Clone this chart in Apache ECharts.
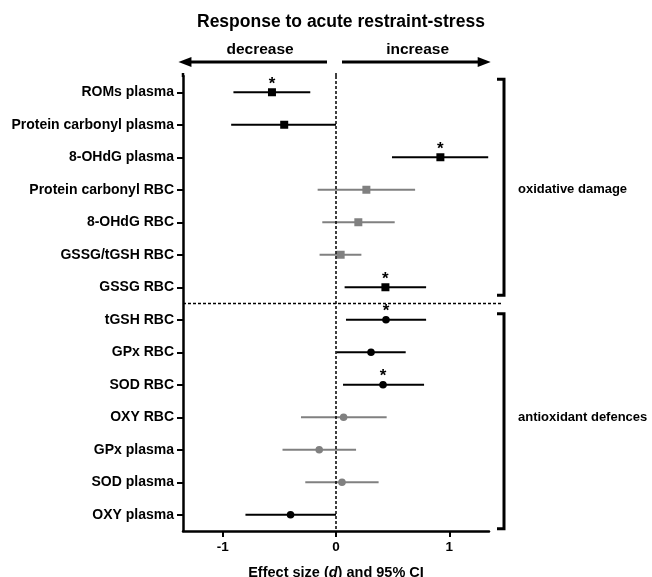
<!DOCTYPE html>
<html lang="en">
<head>
    <meta charset="UTF-8">
    <title>forest plot</title>
    <script src="https://cdn.jsdelivr.net/npm/echarts@6/dist/echarts.min.js"></script>
    <style>
        html, body { margin: 0; padding: 0; background: #fff; }
        #main { width: 652px; height: 577px; }
    </style>
</head>
<body>
<div id="main"></div>
<script>
    // row labels, top to bottom
    var labels = ['ROMs plasma', 'Protein carbonyl plasma', '8-OHdG plasma', 'Protein carbonyl RBC',
        '8-OHdG RBC', 'GSSG/tGSH RBC', 'GSSG RBC', 'tGSH RBC', 'GPx RBC', 'SOD RBC',
        'OXY RBC', 'GPx plasma', 'SOD plasma', 'OXY plasma'];
    // effect size d and 95% CI
    var effect = [-0.565, -0.457, 0.921, 0.268, 0.197, 0.041, 0.436, 0.441, 0.309, 0.415, 0.067, -0.148, 0.053, -0.401];
    var ciLow  = [-0.905, -0.925, 0.494, -0.162, -0.121, -0.145, 0.076, 0.088, 0.005, 0.062, -0.309, -0.472, -0.271, -0.799];
    var ciHigh = [-0.227, 0.0, 1.343, 0.698, 0.518, 0.224, 0.795, 0.795, 0.615, 0.777, 0.447, 0.177, 0.376, 0.0];
    var starred = [1, 0, 1, 0, 0, 0, 1, 1, 0, 1, 0, 0, 0, 0];
    var faded   = [0, 0, 0, 1, 1, 1, 0, 0, 0, 0, 1, 1, 1, 0];
    var shape   = ['rect', 'rect', 'rect', 'rect', 'rect', 'rect', 'rect',
        'circle', 'circle', 'circle', 'circle', 'circle', 'circle', 'circle'];
    var xTicks = [-1, 0, 1];
    var groups = [
        {name: 'oxidative damage', from: 0, to: 6, padTop: 13, padBottom: 8},
        {name: 'antioxidant defences', from: 7, to: 13, padTop: 6, padBottom: 14}
    ];

    var FONT = '"Liberation Sans", Arial, Helvetica, sans-serif';
    var GREY = '#808080';

    var data = labels.map(function (l, i) {
        return [effect[i], i, ciLow[i], ciHigh[i]];
    });

    var myChart = echarts.init(document.getElementById('main'));

    myChart.setOption({
        animation: false,
        backgroundColor: '#fff',
        title: {
            text: 'Response to acute restraint-stress',
            left: 192,
            top: 8,
            textStyle: {fontFamily: FONT, fontSize: 17.5, fontWeight: 'bold', color: '#000'}
        },
        grid: {left: 183, right: 163, top: 76, bottom: 46, outerBoundsMode: 'none', containLabel: false},
        xAxis: {
            type: 'value',
            min: -1.35,
            max: 1.35,
            splitLine: {show: false},
            axisLine: {show: true, onZero: false, lineStyle: {color: '#000', width: 2.5}},
            axisTick: {show: true, customValues: xTicks, length: 6, lineStyle: {color: '#000', width: 2}},
            axisLabel: {
                customValues: xTicks, margin: 9, color: '#000',
                fontFamily: FONT, fontSize: 13.5, fontWeight: 'bold'
            },
            name: '{b|Effect size (}{i|d}{b|) and 95% CI}',
            nameLocation: 'middle',
            nameGap: 34,
            nameTextStyle: {
                rich: {
                    b: {fontFamily: FONT, fontSize: 14.5, fontWeight: 'bold', color: '#000'},
                    i: {fontFamily: FONT, fontSize: 14.5, fontWeight: 'bold', fontStyle: 'italic', color: '#000'}
                }
            }
        },
        yAxis: {
            type: 'category',
            inverse: true,
            data: labels,
            axisLine: {show: true, onZero: false, lineStyle: {color: '#000', width: 2.5}},
            axisTick: {show: true, alignWithLabel: true, length: 6, lineStyle: {color: '#000', width: 2}},
            axisLabel: {
                margin: 9, color: '#000',
                fontFamily: FONT, fontSize: 14, fontWeight: 'bold'
            },
            splitLine: {show: false}
        },
        series: [{
            type: 'custom',
            data: data,
            encode: {x: 0, y: 1},
            clip: false,
            renderItem: function (params, api) {
                var i = params.dataIndex;
                var c = faded[i] ? GREY : '#000';
                var p = api.coord([api.value(0), i]);
                var lo = api.coord([api.value(2), i]);
                var hi = api.coord([api.value(3), i]);
                var kids = [{
                    type: 'line',
                    shape: {x1: lo[0], y1: p[1], x2: hi[0], y2: p[1]},
                    style: {stroke: c, lineWidth: 2}
                }];
                if (shape[i] === 'rect') {
                    kids.push({type: 'rect', shape: {x: p[0] - 4, y: p[1] - 4, width: 8, height: 8}, style: {fill: c}});
                } else {
                    kids.push({type: 'circle', shape: {cx: p[0], cy: p[1], r: 3.8}, style: {fill: c}});
                }
                if (starred[i]) {
                    kids.push({
                        type: 'text',
                        style: {
                            text: '*', x: p[0], y: p[1] - 8, align: 'center', verticalAlign: 'middle',
                            font: 'bold 17px ' + FONT, fill: '#000'
                        }
                    });
                }
                return {type: 'group', children: kids};
            },
            markLine: {
                silent: true,
                symbol: 'none',
                label: {show: false},
                lineStyle: {color: '#000', width: 1.5, type: [3, 2]},
                data: [{xAxis: 0}]
            }
        }]
    });

    // annotations: arrows, separator, brackets, group names
    function px(x, row) {
        return myChart.convertToPixel({gridIndex: 0}, [x, row]);
    }
    var rowStep = px(0, 1)[1] - px(0, 0)[1];
    var bandTop = px(0, 0)[1] - rowStep / 2;
    var axisLeft = px(-1.35, 0)[0];
    var zeroX = px(0, 0)[0];
    var sepY = (px(0, 6)[1] + px(0, 7)[1]) / 2;
    var bx = 504;
    var arrowY = 62;
    var g = [];

    function arrow(x1, x2) {
        var dir = x2 > x1 ? 1 : -1;
        g.push({type: 'line', shape: {x1: x1, y1: arrowY, x2: x2 - dir * 10, y2: arrowY},
            style: {stroke: '#000', lineWidth: 3}});
        g.push({type: 'polygon', shape: {points: [[x2, arrowY], [x2 - dir * 13, arrowY - 5], [x2 - dir * 13, arrowY + 5]]},
            style: {fill: '#000'}});
    }
    arrow(zeroX - 9, px(-1.39, 0)[0]);
    arrow(zeroX + 6, px(1.365, 0)[0]);
    g.push({type: 'text', style: {text: 'decrease', x: px(-0.67, 0)[0], y: 50, align: 'center', verticalAlign: 'middle',
        font: 'bold 15.5px ' + FONT, fill: '#000'}});
    g.push({type: 'text', style: {text: 'increase', x: px(0.72, 0)[0], y: 50, align: 'center', verticalAlign: 'middle',
        font: 'bold 15.5px ' + FONT, fill: '#000'}});

    // extend the left axis and zero line a little above the first band
    g.push({type: 'line', shape: {x1: axisLeft, y1: bandTop - 3, x2: axisLeft, y2: bandTop + 1}, style: {stroke: '#000', lineWidth: 2.5}});
    g.push({type: 'line', shape: {x1: zeroX, y1: bandTop - 3, x2: zeroX, y2: bandTop}, style: {stroke: '#000', lineWidth: 1.5, lineDash: [3, 2]}});

    // separator between groups
    g.push({type: 'line', shape: {x1: axisLeft, y1: sepY, x2: 502, y2: sepY},
        style: {stroke: '#000', lineWidth: 1.5, lineDash: [3, 2]}});

    groups.forEach(function (gr) {
        var y1 = px(0, gr.from)[1] - gr.padTop;
        var y2 = px(0, gr.to)[1] + gr.padBottom;
        g.push({type: 'polyline', shape: {points: [[bx - 7, y1], [bx, y1], [bx, y2], [bx - 7, y2]]},
            style: {stroke: '#000', lineWidth: 3, fill: null}});
        g.push({type: 'text', style: {text: gr.name, x: 518, y: (px(0, gr.from)[1] + px(0, gr.to)[1]) / 2, align: 'left', verticalAlign: 'middle',
            font: 'bold 13px ' + FONT, fill: '#000'}});
    });

    myChart.setOption({graphic: g});
</script>
</body>
</html>
